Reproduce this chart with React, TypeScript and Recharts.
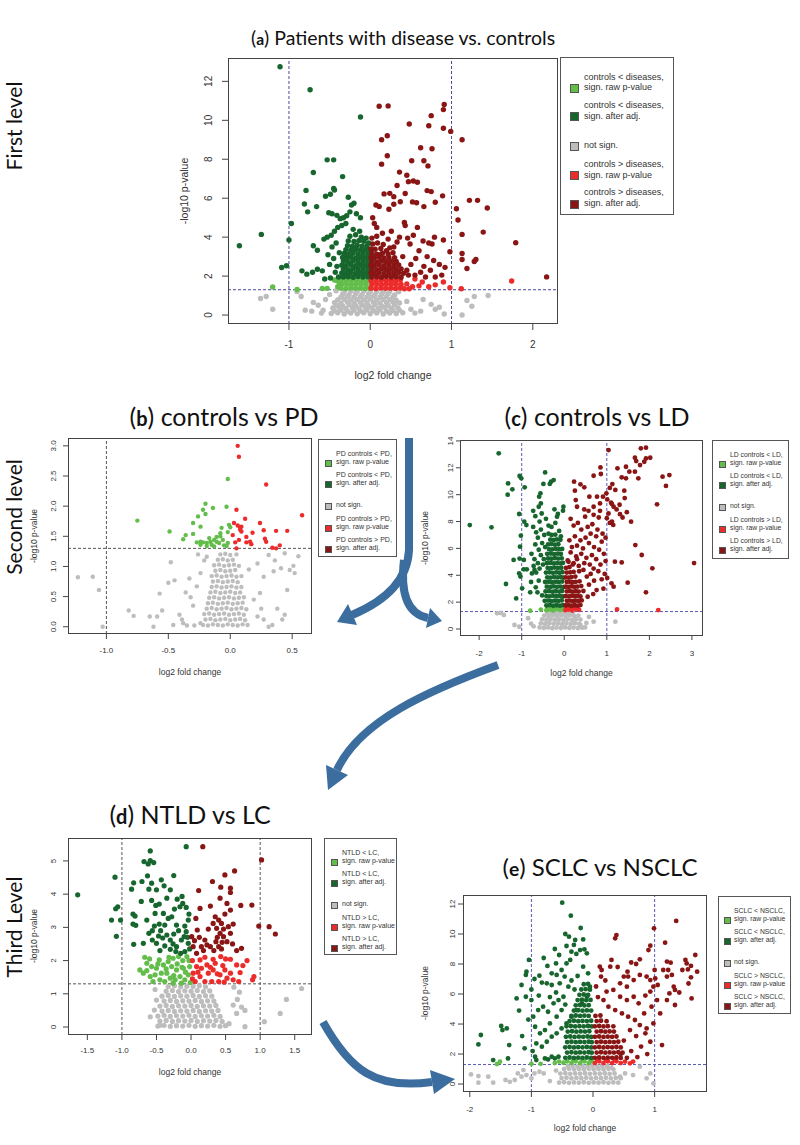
import { ScatterChart, Scatter, XAxis, YAxis, ReferenceLine } from 'recharts';

const COL = { lg: '#63bd4b', dg: '#16662d', ns: '#bdbdbd', lr: '#ec2b2b', dr: '#8a1515' };
const RFONT = '"Liberation Sans", Arial, sans-serif';
const TFONT = 'Lato, "Open Sans", sans-serif';

// ---------- (a) patients with disease vs controls ----------
const A_X_TICKS = [-1, 0, 1, 2];
const A_Y_TICKS = [0, 2, 4, 6, 8, 10, 12];
const A_NS = [-1.35,0.85, -1.28,0.95, -1.2,0.3, -0.9,1.2, -0.85,0.95, -0.8,0.25, -0.72,0.2, -0.7,0.65, -0.64,0.5, -0.6,0.1, -0.58,0.25, -0.55,0.8, -0.5,1.05, 0.45,0.7, 0.5,0.3, 0.55,0.1, 0.62,0.2, 0.65,0.8, 0.75,0.55, 0.8,0.3, 0.85,0.4, 0.91,0.05, 1.13,0.0, 1.19,0.75, 1.25,0.45, 1.28,0.95, 1.45,1.0,
  -0.48,0.08, -0.4,0.12, -0.32,0.05, -0.24,0.1, -0.16,0.06, -0.08,0.12, 0.0,0.07, 0.08,0.11, 0.16,0.05, 0.24,0.1, 0.32,0.08, 0.4,0.12,
  -0.44,0.22, -0.36,0.25, -0.28,0.2, -0.2,0.24, -0.12,0.21, -0.04,0.26, 0.04,0.22, 0.12,0.25, 0.2,0.2, 0.28,0.23, 0.36,0.25,
  -0.46,0.36, -0.38,0.39, -0.3,0.34, -0.22,0.38, -0.14,0.35, -0.06,0.39, 0.02,0.36, 0.1,0.33, 0.18,0.39, 0.26,0.35, 0.34,0.37,
  -0.42,0.5, -0.34,0.47, -0.26,0.52, -0.18,0.49, -0.1,0.51, -0.02,0.48, 0.06,0.52, 0.14,0.47, 0.22,0.5, 0.3,0.53,
  -0.44,0.64, -0.36,0.61, -0.28,0.66, -0.2,0.62, -0.12,0.65, -0.04,0.63, 0.04,0.66, 0.12,0.61, 0.2,0.64, 0.28,0.67, 0.36,0.62,
  -0.4,0.78, -0.32,0.81, -0.24,0.77, -0.16,0.8, -0.08,0.78, 0.0,0.82, 0.08,0.77, 0.16,0.8, 0.24,0.79, 0.32,0.76,
  -0.36,0.92, -0.28,0.95, -0.2,0.91, -0.12,0.94, -0.04,0.92, 0.04,0.96, 0.12,0.91, 0.2,0.94, 0.28,0.93,
  -0.34,1.07, -0.26,1.04, -0.18,1.09, -0.1,1.05, -0.02,1.08, 0.06,1.04, 0.14,1.07, 0.22,1.1, 0.3,1.03,
  -0.32,1.2, -0.24,1.22, -0.16,1.19, -0.08,1.23, 0.0,1.2, 0.08,1.22, 0.16,1.19, 0.24,1.21, -0.42,1.25, 0.35,1.2];
const A_LG = [-1.2,1.44, -0.9,1.31, -0.59,1.36, -0.53,1.37, -0.44,1.8, -0.41,1.77, -0.40,1.45, -0.38,1.65,
  -0.36,1.38, -0.30,1.36, -0.24,1.39, -0.18,1.37, -0.12,1.38, -0.06,1.36, -0.01,1.39,
  -0.35,1.58, -0.29,1.6, -0.23,1.57, -0.17,1.59, -0.11,1.58, -0.05,1.6,
  -0.36,1.78, -0.30,1.76, -0.24,1.79, -0.18,1.77, -0.12,1.78, -0.06,1.76, -0.01,1.79];
const A_LR = [0.01,1.38, 0.07,1.36, 0.13,1.39, 0.19,1.37, 0.25,1.38, 0.31,1.36, 0.37,1.39, 0.42,1.35,
  0.02,1.58, 0.08,1.6, 0.14,1.57, 0.20,1.59, 0.26,1.58, 0.32,1.6, 0.38,1.57,
  0.01,1.78, 0.07,1.76, 0.13,1.79, 0.19,1.77, 0.25,1.78, 0.31,1.76, 0.37,1.8,
  0.45,1.6, 0.52,1.45, 0.6,1.5, 0.64,1.7, 0.72,1.45, 0.8,1.55, 0.9,1.7, 0.98,1.4, 1.12,1.35, 1.74,1.75, 0.55,1.85, 0.48,1.35];
const A_DG = [-1.11,12.75, -0.74,11.57, -0.12,10.17, -0.53,7.97, -0.45,7.97, -0.70,7.32, -0.34,7.11, -0.45,6.5, -0.44,6.42, -0.79,6.4, -0.55,6.1, -0.49,6.2, -0.81,5.7, -0.77,5.3, -0.66,5.57, -0.27,6.05, -0.23,5.65, -0.20,5.74, -0.51,5.25, -0.47,5.2, -0.41,5.12, -0.37,4.95, -0.33,5.0, -0.29,5.1, -0.25,5.3, -0.17,5.2, -0.12,5.0, -0.97,4.7, -1.0,3.85, -1.34,4.14, -1.61,3.56, -1.09,2.44, -1.03,2.53, -0.70,3.56, -0.65,3.33, -0.84,2.27, -0.78,2.1, -0.71,2.2, -0.65,2.35, -0.59,2.27, -0.56,1.85, -0.49,1.9, -0.57,3.9, -0.53,4.0, -0.48,4.1, -0.44,4.3, -0.40,4.5, -0.35,4.6, -0.30,4.7, -0.42,3.7, -0.47,3.5, -0.52,3.1, -0.45,2.9, -0.50,2.6, -0.41,2.5, -0.38,3.2, -0.43,2.2, -0.39,1.95,
  -0.33,1.95, -0.27,1.97, -0.21,1.94, -0.15,1.98, -0.09,1.95, -0.03,1.97,
  -0.35,2.16, -0.30,2.14, -0.24,2.17, -0.18,2.13, -0.12,2.16, -0.06,2.15, -0.01,2.18,
  -0.33,2.36, -0.27,2.33, -0.21,2.37, -0.15,2.34, -0.09,2.36, -0.03,2.35,
  -0.35,2.56, -0.30,2.54, -0.24,2.57, -0.18,2.53, -0.12,2.56, -0.06,2.55, -0.01,2.57,
  -0.33,2.76, -0.27,2.73, -0.21,2.77, -0.15,2.74, -0.09,2.76, -0.03,2.75,
  -0.34,2.96, -0.29,2.94, -0.24,2.97, -0.18,2.93, -0.12,2.96, -0.06,2.95, -0.01,2.97,
  -0.32,3.16, -0.27,3.13, -0.21,3.17, -0.15,3.14, -0.09,3.16, -0.03,3.15,
  -0.30,3.36, -0.24,3.33, -0.18,3.37, -0.12,3.34, -0.06,3.36, -0.01,3.35,
  -0.28,3.56, -0.22,3.53, -0.16,3.57, -0.10,3.54, -0.04,3.56,
  -0.27,3.8, -0.20,3.78, -0.14,3.82, -0.08,3.79, -0.02,3.7,
  -0.25,4.05, -0.18,4.12, -0.11,4.0, -0.05,3.95, -0.21,4.4, -0.13,4.3];
const A_DR = [0.11,10.72, 0.22,10.74, 0.48,9.81, 0.75,10.24, 0.72,9.72, 0.91,10.81, 0.90,10.55, 0.90,9.59, 0.99,9.43, 1.13,9.0, 0.14,9.0, 0.21,9.21, 0.14,7.75, 0.21,8.18, 0.51,7.92, 0.62,8.59, 0.76,8.54, 0.66,7.92, 0.71,7.66, 0.36,7.34, 0.45,7.18, 0.47,6.85, 0.53,6.88, 0.58,6.82, 0.33,6.65, 0.24,6.25, 0.29,6.08, 0.17,6.22, 0.43,6.24, 0.70,6.39, 0.75,6.34, 0.89,6.12, 0.80,5.79, 0.52,5.81, 0.57,5.77, 0.66,5.57, 0.07,5.65, 0.11,5.57, 0.23,5.43, 0.37,5.82, 0.29,5.69, 1.06,5.46, 1.22,5.89, 1.32,5.89, 1.44,5.5, 1.08,4.88, 1.13,4.14, 1.39,4.26, 1.79,3.71, 1.13,3.16, 1.13,2.85, 1.30,2.85, 1.28,2.75, 1.19,2.39, 2.17,1.96, 0.98,3.25, 0.90,3.85, 0.79,4.0, 0.76,3.65, 0.72,3.7, 0.58,4.5, 0.42,4.75, 0.43,4.6, 0.53,4.1, 0.65,3.8, 0.49,3.65, 0.33,3.75, 0.29,3.5, 0.20,3.3, 0.12,3.1, 0.05,4.7, 0.03,5.0, 0.08,4.5, 0.15,4.2, 0.26,4.3, 0.36,4.0, 0.46,3.95, 0.60,3.3, 0.70,3.0, 0.78,2.8, 0.85,2.6, 0.66,2.5, 0.56,2.9, 0.50,2.6, 0.62,2.2, 0.74,2.3, 0.88,2.05, 0.80,1.95, 0.45,2.3, 0.47,2.05, 0.55,2.05, 0.68,1.95, 0.40,3.0, 0.92,2.45,
  0.02,1.95, 0.08,1.97, 0.14,1.94, 0.20,1.98, 0.26,1.95, 0.32,1.97, 0.38,1.94,
  0.01,2.16, 0.05,2.14, 0.11,2.17, 0.17,2.13, 0.23,2.16, 0.29,2.15, 0.35,2.18, 0.41,2.14,
  0.02,2.36, 0.08,2.33, 0.14,2.37, 0.20,2.34, 0.26,2.36, 0.32,2.35, 0.38,2.37,
  0.01,2.56, 0.05,2.54, 0.11,2.57, 0.17,2.53, 0.23,2.56, 0.29,2.55, 0.35,2.57,
  0.02,2.76, 0.08,2.73, 0.14,2.77, 0.20,2.74, 0.26,2.76, 0.32,2.75,
  0.01,2.96, 0.05,2.94, 0.11,2.97, 0.17,2.93, 0.23,2.96, 0.30,2.95,
  0.02,3.16, 0.08,3.13, 0.15,3.17, 0.22,3.14, 0.28,3.2,
  0.01,3.4, 0.06,3.38, 0.13,3.42, 0.24,3.45, 0.03,3.65, 0.09,3.7, 0.16,3.62, 0.02,3.95, 0.08,4.05, 0.22,3.9];
const A_LEGEND = [['controls < diseases,', 'sign. raw p-value'], ['controls < diseases,', 'sign. after adj.'], ['not sign.'], ['controls > diseases,', 'sign. raw p-value'], ['controls > diseases,', 'sign. after adj.']];

// ---------- (b) controls vs PD ----------
const B_X_TICKS = [-1, -0.5, 0, 0.5];
const B_Y_TICKS = [0, 0.5, 1, 1.5, 2, 2.5, 3];
const B_NS = [-1.23,0.82, -1.11,0.83, -1.06,0.61, -1.03,0.0, -0.82,0.27, -0.78,0.18, -0.65,0.17, -0.62,0.0, -0.59,0.17, -0.57,0.55, -0.55,0.27, -0.48,1.07, -0.45,0.77, -0.50,0.73, -0.41,0.2, -0.38,0.06, -0.46,0.03, -0.35,0.02, -0.39,0.12, -0.29,0.02, -0.24,0.06, -0.36,0.57, -0.32,0.49, -0.27,0.67, -0.24,0.89, -0.21,1.1, -0.19,1.16, -0.26,1.2, -0.30,0.35, -0.33,0.8, 0.31,0.0, 0.34,0.03, 0.44,0.2, 0.42,0.12, 0.46,0.61, 0.52,0.89, 0.51,1.01, 0.55,1.17, 0.48,0.94, 0.41,0.97, 0.35,0.92, 0.27,0.83, 0.31,1.19, 0.24,0.56, 0.19,0.45, 0.22,0.17, 0.27,0.12, 0.38,0.3, 0.25,0.3, 0.15,0.95, 0.22,1.05, 0.36,1.1, 0.44,1.22,
  -0.22,0.03, -0.18,0.02, -0.14,0.04, -0.10,0.03, -0.06,0.02, -0.02,0.04, 0.02,0.03, 0.06,0.02, 0.10,0.04, 0.14,0.03,
  -0.20,0.12, -0.16,0.13, -0.12,0.11, -0.08,0.12, -0.04,0.13, 0.0,0.11, 0.04,0.12, 0.08,0.13, 0.12,0.11,
  -0.21,0.21, -0.17,0.22, -0.13,0.2, -0.09,0.21, -0.05,0.22, -0.01,0.2, 0.03,0.21, 0.07,0.22, 0.11,0.2,
  -0.19,0.3, -0.15,0.31, -0.11,0.29, -0.07,0.3, -0.03,0.31, 0.01,0.29, 0.05,0.3, 0.09,0.31, 0.13,0.29,
  -0.18,0.39, -0.14,0.4, -0.10,0.38, -0.06,0.39, -0.02,0.4, 0.02,0.38, 0.06,0.39, 0.10,0.4,
  -0.17,0.48, -0.13,0.49, -0.09,0.47, -0.05,0.48, -0.01,0.49, 0.03,0.47, 0.07,0.48, 0.11,0.49,
  -0.16,0.57, -0.12,0.58, -0.08,0.56, -0.04,0.57, 0.0,0.58, 0.04,0.56, 0.08,0.57,
  -0.15,0.66, -0.11,0.67, -0.07,0.65, -0.03,0.66, 0.01,0.67, 0.05,0.65, 0.09,0.66,
  -0.14,0.75, -0.10,0.76, -0.06,0.74, -0.02,0.75, 0.02,0.76, 0.06,0.74,
  -0.15,0.84, -0.11,0.85, -0.07,0.83, -0.03,0.84, 0.01,0.85, 0.05,0.83, 0.09,0.84,
  -0.12,0.93, -0.08,0.94, -0.04,0.92, 0.0,0.93, 0.04,0.94,
  -0.13,1.02, -0.09,1.03, -0.05,1.01, -0.01,1.02, 0.03,1.03, 0.07,1.01,
  -0.10,1.11, -0.06,1.12, -0.02,1.1, 0.02,1.11, -0.08,1.2, -0.04,1.21, 0.0,1.19, 0.05,1.2];
const B_LG = [-0.75,1.76, -0.49,1.58, -0.02,2.45, -0.20,2.04, -0.22,1.94, -0.20,1.87, -0.14,1.97, -0.30,1.72, -0.24,1.66, -0.38,1.45, -0.36,1.52, -0.30,1.54, -0.03,1.99, -0.01,1.69, 0.0,1.65, -0.08,1.55, -0.08,1.50, -0.11,1.49, -0.13,1.44, -0.16,1.41, -0.19,1.39, -0.22,1.40, -0.24,1.36, -0.24,1.41, -0.11,1.41, -0.09,1.39, -0.15,1.36, -0.19,1.34, -0.06,1.44, -0.02,1.57, -0.02,1.39, -0.03,1.34, -0.27,1.40, -0.07,1.64, -0.26,1.83, -0.13,1.33, -0.17,1.47, -0.05,1.35];
const B_LR = [0.06,3.0, 0.07,2.82, 0.29,2.36, 0.05,1.94, 0.58,1.85, 0.03,1.72, 0.06,1.68, 0.08,1.65, 0.08,1.61, 0.09,1.58, 0.12,1.79, 0.24,1.72, 0.18,1.56, 0.27,1.60, 0.28,1.46, 0.29,1.41, 0.37,1.59, 0.46,1.59, 0.13,1.40, 0.13,1.49, 0.16,1.41, 0.17,1.37, 0.04,1.40, 0.05,1.30, 0.40,1.35, 0.37,1.30, 0.34,1.31, 0.07,1.44, 0.09,1.66, 0.02,1.52];
const B_DG: number[] = [];
const B_DR: number[] = [];
const B_LEGEND = [['PD controls < PD,', 'sign. raw p-value'], ['PD controls < PD,', 'sign. after adj.'], ['not sign.'], ['PD controls > PD,', 'sign. raw p-value'], ['PD controls > PD,', 'sign. after adj.']];

// ---------- (c) controls vs LD ----------
const C_X_TICKS = [-2, -1, 0, 1, 2, 3];
const C_Y_TICKS = [0, 2, 4, 6, 8, 10, 12, 14];
const C_NS = [-1.5,1.2, -1.58,1.17, -1.42,1.05, -1.17,0.3, -1.06,0.17, -0.85,0.8, -0.78,0.4, -0.72,0.2, 0.38,0.3, 0.49,0.12, 0.69,0.55, 1.2,0.55, 0.58,0.9, 0.52,0.45,
  -0.58,0.12, -0.48,0.08, -0.38,0.12, -0.28,0.06, -0.18,0.11, -0.08,0.07, 0.02,0.12, 0.12,0.08, 0.22,0.11, 0.32,0.07, 0.42,0.1,
  -0.55,0.42, -0.45,0.38, -0.35,0.43, -0.25,0.39, -0.15,0.41, -0.05,0.37, 0.05,0.42, 0.15,0.38, 0.25,0.43, 0.35,0.39,
  -0.52,0.72, -0.42,0.68, -0.32,0.73, -0.22,0.69, -0.12,0.71, -0.02,0.67, 0.08,0.72, 0.18,0.68, 0.28,0.73, 0.38,0.7,
  -0.47,1.0, -0.37,0.97, -0.27,1.02, -0.17,0.98, -0.07,1.01, 0.03,0.97, 0.13,1.02, 0.23,0.98, 0.33,1.0,
  -0.40,1.22, -0.30,1.2, -0.20,1.23, -0.10,1.19, 0.0,1.22, 0.10,1.2, 0.20,1.23];
const C_LG = [-0.42,1.4, -0.34,1.45, -0.26,1.38, -0.18,1.5, -0.10,1.42, -0.03,1.47, -0.38,1.6, -0.30,1.62, -0.22,1.58, -0.14,1.65, -0.06,1.6, -0.80,1.36, -0.55,1.45];
const C_LR = [0.03,1.4, 0.11,1.45, 0.19,1.38, 0.27,1.5, 0.35,1.42, 0.07,1.62, 0.15,1.6, 0.23,1.65, 0.31,1.58, 1.24,1.46, 2.21,1.41];
const C_DG = [-1.54,13.08, -2.22,7.74, -1.71,7.57, -1.05,11.39, -1.01,11.22, -1.32,10.84, -1.22,10.40, -1.33,10.0, -0.93,10.55, -1.06,8.56, -0.94,7.99, -0.89,7.74, -1.02,6.95, -1.04,6.13, -1.05,5.24, -1.19,5.14, -0.95,5.14, -0.95,4.44, -1.03,3.9, -1.37,3.35, -1.13,2.28, -1.06,4.14, -0.99,3.03, -0.80,2.73, -0.76,4.14, -0.88,4.44, -0.45,11.66, -0.56,10.1, -0.59,9.85, -0.55,9.35, -0.60,9.1, -0.49,10.8, -0.34,10.8, -0.31,10.97, -0.25,11.09, -0.02,9.1, -0.03,8.81, -0.17,8.36, -0.15,8.56, -0.23,8.91, -0.63,2.73, -0.78,3.5, -0.70,4.4, -0.67,3.1, -0.60,3.6, -0.52,2.5,
  -0.73,8.8, -0.68,8.4, -0.58,8.0, -0.73,7.6, -0.66,7.2, -0.53,8.6, -0.43,8.2, -0.37,7.7, -0.55,7.4, -0.47,7.0, -0.62,6.8, -0.37,7.1, -0.30,7.6, -0.21,7.9, -0.12,7.3, -0.08,6.9, -0.68,6.3, -0.60,5.9, -0.52,6.4, -0.45,6.1, -0.77,5.6, -0.70,5.2, -0.62,4.9, -0.55,5.5, -0.48,5.2, -0.72,4.7, -0.66,4.2, -0.58,4.5, -0.50,4.8,
  -0.42,1.75, -0.34,1.78, -0.26,1.73, -0.18,1.77, -0.10,1.74, -0.03,1.78,
  -0.46,2.1, -0.38,2.12, -0.30,2.08, -0.22,2.11, -0.14,2.09, -0.06,2.13,
  -0.42,2.45, -0.34,2.43, -0.26,2.47, -0.18,2.44, -0.10,2.46, -0.03,2.42,
  -0.44,2.8, -0.36,2.82, -0.28,2.78, -0.20,2.81, -0.12,2.79, -0.05,2.83,
  -0.41,3.15, -0.33,3.13, -0.25,3.17, -0.17,3.14, -0.09,3.16, -0.02,3.12,
  -0.45,3.5, -0.37,3.52, -0.29,3.48, -0.21,3.51, -0.13,3.49, -0.05,3.53,
  -0.40,3.85, -0.32,3.83, -0.24,3.87, -0.16,3.84, -0.08,3.86, -0.02,3.82,
  -0.43,4.2, -0.35,4.22, -0.27,4.18, -0.19,4.21, -0.11,4.19, -0.04,4.23,
  -0.39,4.55, -0.31,4.53, -0.23,4.57, -0.15,4.54, -0.07,4.56,
  -0.41,4.9, -0.33,4.92, -0.25,4.88, -0.17,4.91, -0.09,4.89, -0.03,4.93,
  -0.38,5.25, -0.30,5.23, -0.22,5.27, -0.14,5.24, -0.06,5.26,
  -0.40,5.6, -0.32,5.62, -0.24,5.58, -0.16,5.61, -0.08,5.59,
  -0.36,5.95, -0.28,5.93, -0.20,5.97, -0.12,5.94, -0.05,5.96,
  -0.38,6.3, -0.30,6.32, -0.22,6.28, -0.14,6.31,
  -0.33,6.65, -0.25,6.63, -0.17,6.67, -0.09,6.64, -0.30,7.0, -0.21,7.02];
const C_DR = [1.80,13.45, 1.92,13.5, 2.02,12.75, 1.04,13.32, 1.66,12.75, 1.69,12.5, 1.78,12.2, 1.88,12.45, 1.92,12.7, 0.85,12.03, 1.25,11.96, 1.45,12.08, 0.86,11.54, 0.69,11.41, 1.53,11.71, 1.66,11.71, 1.74,11.22, 1.45,11.22, 1.35,11.29, 2.31,11.34, 2.47,11.46, 2.39,10.65, 2.18,9.28, 0.23,10.97, 0.38,10.77, 0.47,10.55, 1.13,10.79, 1.07,10.5, 0.99,10.1, 0.91,9.85, 1.01,9.65, 1.10,9.4, 1.16,9.1, 1.23,8.9, 1.31,8.55, 1.37,8.3, 1.47,8.7, 1.20,10.35, 1.41,10.30, 1.42,9.75, 1.30,9.25, 1.12,9.3, 0.84,9.35, 0.69,9.1, 0.57,8.8, 0.49,8.36, 0.69,8.5, 0.81,8.3, 0.25,10.3, 0.27,9.6, 0.30,9.1, 0.47,8.9, 0.59,9.85, 0.77,9.85, 0.84,8.8, 1.04,8.6, 1.0,8.25, 1.12,8.0, 1.15,7.75, 1.07,7.9, 1.57,7.99, 1.67,6.25, 1.82,5.51, 2.07,4.52, 3.05,4.91, 1.92,2.73, 1.49,3.45, 1.11,3.4, 1.16,3.15, 1.19,5.01, 1.35,4.96, 0.97,5.06, 0.88,3.7, 0.85,4.8, 0.69,4.5, 0.62,4.1, 0.53,3.9,
  0.15,8.2, 0.22,7.7, 0.32,7.9, 0.40,7.4, 0.55,7.6, 0.66,7.8, 0.78,7.4, 0.90,7.1, 0.97,6.8, 0.88,6.5, 0.75,6.9, 0.62,7.1, 0.50,6.8, 0.38,6.6, 0.25,6.9, 0.12,6.6, 0.18,6.1, 0.30,6.2, 0.44,6.0, 0.58,6.4, 0.70,6.1, 0.82,5.9, 0.93,5.6, 0.65,5.5, 0.52,5.3, 0.40,5.6, 0.28,5.4, 0.15,5.7, 0.10,5.0, 0.22,4.9, 0.34,4.7, 0.47,4.9, 0.60,4.8, 0.75,5.2, 0.80,4.3, 0.70,3.6, 0.58,3.3, 0.45,4.4, 0.95,4.1, 1.01,3.8, 0.92,3.0, 0.76,2.9, 0.68,2.6, 0.55,2.4,
  0.03,1.75, 0.10,1.78, 0.17,1.73, 0.24,1.77, 0.31,1.74, 0.38,1.78,
  0.06,2.1, 0.13,2.12, 0.20,2.08, 0.27,2.11, 0.34,2.09, 0.41,2.13,
  0.03,2.45, 0.10,2.43, 0.17,2.47, 0.24,2.44, 0.31,2.46, 0.38,2.42,
  0.06,2.8, 0.13,2.82, 0.20,2.78, 0.27,2.81, 0.34,2.79, 0.45,2.83,
  0.03,3.15, 0.10,3.13, 0.17,3.17, 0.24,3.14, 0.31,3.16, 0.40,3.2,
  0.06,3.5, 0.13,3.52, 0.20,3.48, 0.27,3.51, 0.36,3.55,
  0.03,3.85, 0.10,3.83, 0.17,3.87, 0.26,3.9, 0.06,4.2, 0.14,4.22, 0.22,4.25, 0.35,4.3,
  0.04,4.55, 0.12,4.6, 0.2,4.8, 0.08,5.1, 0.3,5.2];
const C_LEGEND = [['LD controls < LD,', 'sign. raw p-value'], ['LD controls < LD,', 'sign. after adj.'], ['not sign.'], ['LD controls > LD,', 'sign. raw p-value'], ['LD controls > LD,', 'sign. after adj.']];

// ---------- (d) NTLD vs LC ----------
const D_X_TICKS = [-1.5, -1, -0.5, 0, 0.5, 1, 1.5];
const D_Y_TICKS = [0, 1, 2, 3, 4, 5];
const D_NS = [1.60,1.16, 1.38,0.83, 1.29,0.41, 1.06,0.16, 0.78,0.01, 0.66,0.41, 0.67,0.83, 0.61,0.66, 0.73,0.6, 0.78,0.5, -0.59,0.31, -0.53,0.51, -0.50,0.81, -0.52,1.13, 0.70,1.05, 0.62,1.2, 0.55,0.1, -0.45,0.05,
  -0.48,0.03, -0.39,0.05, -0.30,0.02, -0.21,0.04, -0.12,0.03, -0.03,0.05, 0.06,0.02, 0.15,0.04, 0.24,0.03, 0.33,0.05, 0.42,0.02, 0.50,0.04,
  -0.45,0.18, -0.36,0.2, -0.27,0.17, -0.18,0.19, -0.09,0.18, 0.0,0.2, 0.09,0.17, 0.18,0.19, 0.27,0.18, 0.36,0.2, 0.45,0.17,
  -0.48,0.33, -0.39,0.35, -0.30,0.32, -0.21,0.34, -0.12,0.33, -0.03,0.35, 0.06,0.32, 0.15,0.34, 0.24,0.33, 0.33,0.35, 0.42,0.32,
  -0.42,0.48, -0.33,0.5, -0.24,0.47, -0.15,0.49, -0.06,0.48, 0.03,0.5, 0.12,0.47, 0.21,0.49, 0.30,0.48, 0.39,0.5,
  -0.45,0.63, -0.36,0.65, -0.27,0.62, -0.18,0.64, -0.09,0.63, 0.0,0.65, 0.09,0.62, 0.18,0.64, 0.27,0.63, 0.36,0.65,
  -0.39,0.78, -0.30,0.8, -0.21,0.77, -0.12,0.79, -0.03,0.78, 0.06,0.8, 0.15,0.77, 0.24,0.79, 0.33,0.78,
  -0.42,0.93, -0.33,0.95, -0.24,0.92, -0.15,0.94, -0.06,0.93, 0.03,0.95, 0.12,0.92, 0.21,0.94, 0.30,0.93,
  -0.36,1.08, -0.27,1.1, -0.18,1.07, -0.09,1.09, 0.0,1.08, 0.09,1.1, 0.18,1.07, 0.27,1.09,
  -0.33,1.22, -0.24,1.24, -0.15,1.21, -0.06,1.23, 0.03,1.22, 0.12,1.24, 0.21,1.21];
const D_LG = [-0.67,2.10, -0.64,1.92, -0.74,1.72, -0.64,1.70, -0.57,1.82, -0.52,1.57, -0.55,1.37, -0.46,2.02, -0.40,1.87, -0.33,1.97, -0.26,2.07, -0.18,2.12, -0.12,2.0, -0.06,2.12, -0.02,1.82, -0.11,1.77, -0.21,1.72, -0.28,1.82, -0.35,1.62, -0.43,1.62, -0.45,1.42, -0.38,1.37, -0.30,1.47, -0.23,1.42, -0.16,1.52, -0.09,1.42, -0.04,1.57, -0.01,1.34, -0.14,1.32, -0.26,1.32, -0.50,1.77, -0.59,1.52, -0.69,1.62, -0.36,1.75, -0.2,1.9, -0.08,1.65, -0.48,1.9, -0.25,1.55, -0.13,1.8, -0.6,2.05, -0.32,2.1, -0.03,2.0];
const D_LR = [0.32,2.04, 0.43,2.12, 0.57,2.04, 0.81,2.0, 0.91,1.52, 0.89,1.42, 0.57,1.62, 0.61,1.42, 0.69,1.37, 0.52,1.47, 0.42,1.57, 0.32,1.72, 0.23,1.87, 0.13,2.02, 0.08,1.82, 0.03,1.62, 0.13,1.52, 0.20,1.37, 0.30,1.37, 0.40,1.37, 0.49,1.72, 0.66,1.87, 0.71,1.64, 0.35,1.92, 0.15,1.77, 0.06,1.37, 0.25,1.62, 0.02,2.0, 0.1,1.65, 0.2,2.1, 0.28,1.8, 0.38,1.6, 0.46,1.85, 0.5,2.05, 0.02,1.45, 0.48,1.35, 0.75,1.85];
const D_DG = [-1.64,3.98, -1.10,4.51, -1.15,3.22, -1.09,3.56, -1.06,3.62, -1.02,3.22, -1.08,2.73, -0.83,4.34, -0.86,4.15, -0.84,3.40, -0.81,3.34, -0.84,3.10, -0.80,3.06, -0.83,2.49, -0.59,5.30, -0.68,4.98, -0.62,4.91, -0.59,5.01, -0.54,4.95, -0.63,4.55, -0.71,4.38, -0.57,4.33, -0.43,4.43, -0.25,4.56, -0.39,4.25, -0.30,4.13, -0.50,4.13, -0.61,4.15, -0.72,3.78, -0.57,3.81, -0.51,3.66, -0.35,3.88, -0.20,3.85, -0.12,3.72, -0.16,3.62, -0.07,3.60, -0.13,3.93, -0.52,3.42, -0.40,3.42, -0.28,3.32, -0.33,3.27, -0.64,3.22, -0.53,3.04, -0.46,3.10, -0.38,3.07, -0.21,3.07, -0.09,3.04, -0.04,3.22, -0.61,2.82, -0.56,2.90, -0.47,2.74, -0.41,2.68, -0.35,2.77, -0.30,2.62, -0.26,2.50, -0.21,2.42, -0.14,2.62, -0.10,2.72, -0.07,2.87, -0.04,2.52, -0.09,2.27, -0.15,2.22, -0.22,2.27, -0.30,2.34, -0.38,2.44, -0.50,2.52, -0.56,2.62, -0.07,5.43, -0.69,2.52, -0.45,2.3, -0.02,2.35, -0.05,2.7, -0.18,2.9, -0.25,2.8, -0.44,2.9, -0.03,3.4, -0.24,3.55, -0.46,3.7];
const D_DR = [0.17,5.43, 1.02,5.03, 0.63,4.70, 0.49,4.58, 0.31,4.38, 0.11,4.11, 0.43,4.21, 0.57,4.18, 0.57,4.05, 0.42,3.88, 0.52,3.72, 0.72,3.66, 0.88,3.67, 0.57,3.52, 0.13,3.57, 0.28,3.64, 0.35,3.32, 0.40,3.22, 0.44,3.12, 0.37,2.97, 0.32,3.12, 0.42,2.82, 0.47,2.72, 0.54,3.02, 0.61,3.10, 0.57,2.82, 0.52,2.57, 0.36,2.57, 0.40,2.42, 0.28,2.42, 0.20,2.62, 0.23,2.47, 0.09,2.92, 0.12,2.70, 0.15,2.42, 0.03,2.42, 0.08,2.22, 0.01,2.72, 0.98,3.04, 1.13,3.02, 1.22,2.80, 0.07,3.27, 0.73,2.37, 0.45,2.55, 0.38,2.7, 0.47,2.95, 0.33,2.3, 0.44,2.35, 0.49,3.4, 0.25,2.95, 0.18,2.3, 0.05,2.6, 0.60,2.5, 0.66,2.3];
const D_LEGEND = [['NTLD < LC,', 'sign. raw p-value'], ['NTLD < LC,', 'sign. after adj.'], ['not sign.'], ['NTLD > LC,', 'sign. raw p-value'], ['NTLD > LC,', 'sign. after adj.']];

// ---------- (e) SCLC vs NSCLC ----------
const E_X_TICKS = [-2, -1, 0, 1];
const E_Y_TICKS = [0, 2, 4, 6, 8, 10, 12];
const E_NS = [-1.98,0.64, -1.86,0.53, -1.86,0.09, -1.70,0.49, -1.62,0.09, -1.42,0.27, -1.35,0.15, -1.27,0.27, -1.22,0.71, -1.16,0.49, -1.13,0.93, -1.08,0.6, -1.0,0.38, -0.95,0.71, -0.87,0.82, -0.80,0.71, 0.44,0.49, 0.52,0.71, 0.65,0.6, 0.76,1.16, 0.87,0.38, 0.98,0.04, 0.93,0.71, -0.7,0.2, -0.6,0.9, 0.3,1.1,
  -0.55,0.1, -0.47,0.12, -0.39,0.08, -0.31,0.11, -0.23,0.09, -0.15,0.12, -0.07,0.08, 0.01,0.11, 0.09,0.09, 0.17,0.12, 0.25,0.08, 0.33,0.11, 0.41,0.09,
  -0.51,0.4, -0.43,0.42, -0.35,0.38, -0.27,0.41, -0.19,0.39, -0.11,0.42, -0.03,0.38, 0.05,0.41, 0.13,0.39, 0.21,0.42, 0.29,0.38, 0.37,0.41, 0.45,0.39,
  -0.53,0.7, -0.45,0.72, -0.37,0.68, -0.29,0.71, -0.21,0.69, -0.13,0.72, -0.05,0.68, 0.03,0.71, 0.11,0.69, 0.19,0.72, 0.27,0.68, 0.35,0.71,
  -0.47,1.0, -0.39,1.02, -0.31,0.98, -0.23,1.01, -0.15,0.99, -0.07,1.02, 0.01,0.98, 0.09,1.01, 0.17,0.99, 0.25,1.02, 0.33,0.98,
  -0.41,1.2, -0.33,1.22, -0.25,1.18, -0.17,1.21, -0.09,1.19, -0.01,1.22, 0.07,1.18, 0.15,1.21, 0.23,1.19];
const E_LG = [-1.56,1.33, -1.51,1.49, -1.0,1.35, -0.85,1.35, -0.62,1.4, -0.48,1.42, -0.42,1.52, -0.35,1.4, -0.28,1.52, -0.21,1.4, -0.14,1.52, -0.07,1.4, -0.02,1.52, -0.32,1.58, -0.18,1.6, -0.04,1.6, -0.55,1.5];
const E_LR = [0.03,1.4, 0.1,1.52, 0.17,1.4, 0.24,1.52, 0.31,1.4, 0.38,1.52, 0.45,1.4, 0.52,1.5, 0.6,1.38, 0.65,1.5, 0.07,1.6, 0.21,1.6, 0.35,1.6];
const E_DG = [-0.50,12.09, -0.36,11.22, -0.39,9.82, -0.29,9.6, -0.16,9.64, -0.31,9.27, -0.43,9.2, -0.35,8.82, -0.27,8.67, -0.21,8.93, -0.14,8.98, -0.10,8.71, -1.04,8.27, -1.08,7.49, -1.09,7.27, -0.87,7.22, -0.74,7.87, -0.67,7.38, -1.16,6.6, -1.24,5.71, -1.09,5.82, -1.0,5.6, -1.40,3.71, -1.49,3.87, -1.47,3.6, -1.82,3.27, -1.86,2.64, -1.36,2.6, -1.38,1.71, -1.62,1.6, -1.11,2.38, -0.94,1.82, -0.92,1.6,
  -0.83,6.76, -0.75,6.71, -0.67,6.6, -0.59,7.27, -0.51,7.6, -0.43,8.04, -0.60,8.04, -0.37,8.27, -0.46,7.16, -0.54,6.71, -0.40,6.49, -0.78,1.71, -0.73,1.64, -0.67,1.82, -0.62,1.71, -0.56,1.82,
  -0.97,4.49, -0.89,4.93, -0.81,5.16, -0.73,4.82, -0.64,5.38, -0.56,5.6, -0.48,5.82, -0.94,3.82, -0.86,3.38, -0.78,3.6, -0.70,4.04, -0.59,4.49, -0.51,4.93, -0.92,2.71, -0.83,2.49, -0.75,2.82, -0.67,3.16, -0.59,3.38, -0.51,3.71, -0.43,4.04, -0.35,4.49, -0.27,4.93, -0.18,5.38, -0.10,5.82, -0.05,6.49, -0.08,7.38, -0.16,7.82,
  -1.2,4.9, -1.05,4.3, -1.15,3.2, -0.98,2.2, -1.0,6.3, -0.95,7.0, -0.8,8.4, -0.62,9.0, -0.55,8.6, -0.2,10.4, -0.45,10.0, -0.25,7.2, -0.35,6.9, -0.3,6.3, -0.45,5.3, -0.6,6.1, -0.7,5.8, -0.88,5.9,
  -0.45,1.75, -0.38,1.77, -0.31,1.74, -0.24,1.76, -0.17,1.75, -0.10,1.77, -0.03,1.74,
  -0.42,2.1, -0.35,2.12, -0.28,2.09, -0.21,2.11, -0.14,2.1, -0.07,2.12, -0.02,2.09,
  -0.45,2.45, -0.38,2.47, -0.31,2.44, -0.24,2.46, -0.17,2.45, -0.10,2.47, -0.03,2.44,
  -0.42,2.8, -0.35,2.82, -0.28,2.79, -0.21,2.81, -0.14,2.8, -0.07,2.82, -0.02,2.79,
  -0.44,3.15, -0.37,3.17, -0.30,3.14, -0.23,3.16, -0.16,3.15, -0.09,3.17, -0.03,3.14,
  -0.41,3.5, -0.34,3.52, -0.27,3.49, -0.20,3.51, -0.13,3.5, -0.06,3.52,
  -0.43,3.85, -0.36,3.87, -0.29,3.84, -0.22,3.86, -0.15,3.85, -0.08,3.87, -0.02,3.84,
  -0.38,4.2, -0.31,4.22, -0.24,4.19, -0.17,4.21, -0.10,4.2, -0.03,4.22,
  -0.35,4.55, -0.28,4.57, -0.21,4.54, -0.14,4.56, -0.07,4.55,
  -0.31,4.9, -0.24,4.92, -0.17,4.89, -0.10,4.91, -0.03,4.9,
  -0.28,5.25, -0.21,5.27, -0.14,5.24, -0.07,5.26, -0.25,5.6, -0.18,5.62, -0.11,5.59, -0.04,5.61,
  -0.22,5.95, -0.15,5.97, -0.08,5.94, -0.19,6.3, -0.12,6.32, -0.05,6.29, -0.15,6.65, -0.08,6.67];
const E_DR = [1.35,10.87, 0.38,9.93, 0.36,9.71, 0.99,10.38, 1.17,9.42, 0.93,9.22, 0.90,8.93, 1.66,8.6, 1.50,8.27, 1.52,8.04, 1.59,7.87, 1.54,7.64, 1.69,7.49, 1.59,7.11, 1.60,5.71, 1.20,8.16, 1.26,8.09, 1.14,7.6,
  1.22,7.6, 1.28,7.27, 1.20,7.16, 1.31,6.49, 1.33,6.27, 1.24,6.04, 1.33,5.27, 1.20,5.6, 1.09,4.71, 1.12,2.6, 0.76,8.31, 0.70,8.0, 0.30,8.27, 0.28,7.82, 0.11,7.82, 0.14,7.6, 0.13,7.16,
  0.56,7.49, 0.50,7.16, 0.57,7.16, 0.44,6.71, 0.55,6.49, 0.66,6.93, 0.76,7.27, 0.87,7.16, 0.93,6.93, 1.01,7.04, 1.05,6.6, 0.98,6.49, 0.93,6.16, 1.04,5.6, 0.95,5.16, 0.83,4.71, 0.74,5.38, 0.66,5.82, 0.55,5.6, 0.44,5.82, 0.33,6.27, 0.22,6.16, 0.17,5.6, 0.25,5.16, 0.36,4.93, 0.47,4.71, 0.57,4.49, 0.68,4.27, 0.76,3.93, 0.85,3.38, 0.93,2.82, 0.87,3.71, 0.98,4.04,
  0.2,6.9, 0.05,6.5, 0.08,5.8, 0.4,7.8, 0.62,8.1, 1.0,7.6, 1.4,6.1, 1.45,7.6, 1.55,6.7, 0.85,5.9, 0.6,3.6, 0.7,3.2, 0.5,2.9, 0.78,2.5, 0.62,2.2, 0.45,2.0, 0.55,1.75, 0.72,1.8, 0.88,2.0,
  0.03,1.75, 0.10,1.77, 0.17,1.74, 0.24,1.76, 0.31,1.75, 0.38,1.77, 0.45,1.74,
  0.06,2.1, 0.13,2.12, 0.20,2.09, 0.27,2.11, 0.34,2.1, 0.41,2.12, 0.48,2.09,
  0.03,2.45, 0.10,2.47, 0.17,2.44, 0.24,2.46, 0.31,2.45, 0.38,2.47, 0.45,2.44,
  0.06,2.8, 0.13,2.82, 0.20,2.79, 0.27,2.81, 0.34,2.8, 0.41,2.82,
  0.03,3.15, 0.10,3.17, 0.17,3.14, 0.24,3.16, 0.31,3.15, 0.38,3.17,
  0.06,3.5, 0.13,3.52, 0.20,3.49, 0.27,3.51, 0.34,3.5,
  0.03,3.85, 0.10,3.87, 0.17,3.84, 0.24,3.86, 0.33,3.85, 0.06,4.2, 0.13,4.22, 0.22,4.19, 0.04,4.55, 0.12,4.57];
const E_LEGEND = [['SCLC < NSCLC,', 'sign. raw p-value'], ['SCLC < NSCLC,', 'sign. after adj.'], ['not sign.'], ['SCLC > NSCLC,', 'sign. raw p-value'], ['SCLC > NSCLC,', 'sign. after adj.']];

const LEVELS = ['First level', 'Second level', 'Third Level'];

const pts = (a: number[]) => {
  const out: { x: number; y: number }[] = [];
  for (let i = 0; i < a.length; i += 2) out.push({ x: a[i], y: a[i + 1] });
  return out;
};
const f0 = (v: number) => String(v);
const f1 = (v: number) => v.toFixed(1);

const LEGEND_COLORS = [COL.lg, COL.dg, COL.ns, COL.lr, COL.dr];
const LEGEND_LINES = [[15, 23], [36, 44], [66], [80, 88], [101, 109]];

const PANELS = [
  { tag: 'a', title: 'Patients with disease vs. controls', tx: 403, ty: 38, tfs: 19.5,
    box: { l: 228, t: 58, w: 330, h: 266 }, xd: [-1.75, 2.31], yd: [-0.46, 13.2], xt: A_X_TICKS, yt: A_Y_TICKS, xf: f0, yf: f0,
    series: [[A_NS, COL.ns], [A_LG, COL.lg], [A_LR, COL.lr], [A_DG, COL.dg], [A_DR, COL.dr]], r: 2.7,
    tl: 6, xOff: 20, yOff: 20, tfsz: 10, lfs: 10.5, dash: '#4a4a9c', xLabY: 375, yLabX: 184,
    legend: { l: 560, t: 57, w: 114, h: 158, s: 1.34, fs: 9, sq: 7, sqX: 9, txX: 23, labels: A_LEGEND } },
  { tag: 'b', title: 'controls vs PD', tx: 224, ty: 417, tfs: 25,
    box: { l: 68, t: 438, w: 244, h: 196 }, xd: [-1.31, 0.66], yd: [-0.12, 3.13], xt: B_X_TICKS, yt: B_Y_TICKS, xf: f1, yf: f1,
    series: [[B_NS, COL.ns], [B_LG, COL.lg], [B_LR, COL.lr], [B_DG, COL.dg], [B_DR, COL.dr]], r: 2.2,
    tl: 5, xOff: 16, yOff: 15, tfsz: 8, lfs: 8.5, dash: '#555555', xLabY: 672, yLabX: 34,
    legend: { l: 318, t: 439, w: 79, h: 118, s: 1, fs: 7, sq: 5, sqX: 6, txX: 17, labels: B_LEGEND } },
  { tag: 'c', title: 'controls vs LD', tx: 597, ty: 417, tfs: 25,
    box: { l: 460, t: 440, w: 243, h: 196 }, xd: [-2.45, 3.26], yd: [-0.52, 14.07], xt: C_X_TICKS, yt: C_Y_TICKS, xf: f0, yf: f0,
    series: [[C_NS, COL.ns], [C_LG, COL.lg], [C_LR, COL.lr], [C_DG, COL.dg], [C_DR, COL.dr]], r: 2.4,
    tl: 4, xOff: 17, yOff: 10, tfsz: 8, lfs: 8.5, dash: '#5a5ab4', xLabY: 673, yLabX: 425,
    legend: { l: 712, t: 440, w: 77, h: 119, s: 1, fs: 6.8, sq: 5, sqX: 6, txX: 17, labels: C_LEGEND } },
  { tag: 'd', title: 'NTLD vs LC', tx: 190, ty: 815, tfs: 25,
    box: { l: 68, t: 838, w: 244, h: 197 }, xd: [-1.78, 1.75], yd: [-0.24, 5.69], xt: D_X_TICKS, yt: D_Y_TICKS, xf: f1, yf: f0,
    series: [[D_NS, COL.ns], [D_LG, COL.lg], [D_LR, COL.lr], [D_DG, COL.dg], [D_DR, COL.dr]], r: 2.6,
    tl: 5, xOff: 15, yOff: 15, tfsz: 8, lfs: 8.5, dash: '#555555', xLabY: 1072, yLabX: 34,
    legend: { l: 324, t: 838, w: 73, h: 117, s: 1, fs: 7, sq: 5, sqX: 6, txX: 17, labels: D_LEGEND } },
  { tag: 'e', title: 'SCLC vs NSCLC', tx: 600, ty: 867, tfs: 24,
    box: { l: 463, t: 895, w: 244, h: 197 }, xd: [-2.11, 1.85], yd: [-0.53, 12.6], xt: E_X_TICKS, yt: E_Y_TICKS, xf: f0, yf: f0,
    series: [[E_NS, COL.ns], [E_LG, COL.lg], [E_LR, COL.lr], [E_DG, COL.dg], [E_DR, COL.dr]], r: 2.4,
    tl: 5, xOff: 17, yOff: 11, tfsz: 8, lfs: 8.5, dash: '#5a5ab4', xLabY: 1128, yLabX: 425,
    legend: { l: 718, t: 896, w: 73, h: 118, s: 1, fs: 6.8, sq: 5, sqX: 5, txX: 15, labels: E_LEGEND } },
];

const YW = 40, XH = 40, M = 4;

function Legend({ lg }: { lg: any }) {
  return (
    <div style={{ position: 'absolute', left: lg.l, top: lg.t, width: lg.w, height: lg.h, border: '1px solid #555', boxSizing: 'border-box', background: '#fff', fontFamily: RFONT, color: '#333' }}>
      {lg.labels.map((lines: string[], i: number) => {
        const ys = LEGEND_LINES[i].map((v) => v * lg.s);
        const sqY = ys[ys.length - 1];
        return (
          <div key={i}>
            <div style={{ position: 'absolute', left: lg.sqX, top: sqY - lg.sq / 2 - 1, width: lg.sq, height: lg.sq, background: LEGEND_COLORS[i], border: '1px solid #555' }} />
            {lines.map((t, j) => (
              <div key={j} style={{ position: 'absolute', left: lg.txX, top: ys[j] - lg.fs * 0.6 - 1, fontSize: lg.fs, lineHeight: `${lg.fs * 1.2}px`, whiteSpace: 'nowrap' }}>{t}</div>
            ))}
          </div>
        );
      })}
    </div>
  );
}

function Volcano({ p }: { p: any }) {
  const { box } = p;
  const xTick = (props: any) => (
    <text x={props.x} y={props.y + p.xOff - p.tl} textAnchor="middle" dominantBaseline="central" fontSize={p.tfsz} fill="#333" fontFamily={RFONT}>
      {p.xf(props.payload.value)}
    </text>
  );
  const yTick = (props: any) => (
    <text transform={`translate(${props.x - (p.yOff - p.tl)},${props.y}) rotate(-90)`} textAnchor="middle" dominantBaseline="central" fontSize={p.tfsz} fill="#333" fontFamily={RFONT}>
      {p.yf(props.payload.value)}
    </text>
  );
  return (
    <>
      <div style={{ position: 'absolute', left: p.tx - 200, top: p.ty - p.tfs * 0.68, width: 400, textAlign: 'center', fontFamily: TFONT, fontSize: p.tfs, lineHeight: `${p.tfs * 1.3}px`, color: '#111' }}>
        (<span style={{ fontWeight: 700, fontSize: p.tfs * 0.8 }}>{p.tag}</span>) {p.title}
      </div>
      <div style={{ position: 'absolute', left: box.l - YW, top: box.t - M }}>
        <ScatterChart width={YW + box.w + M} height={M + box.h + XH} margin={{ top: M, right: M, bottom: 0, left: 0 }}>
          <XAxis type="number" dataKey="x" domain={p.xd} allowDataOverflow ticks={p.xt} interval={0} axisLine={false}
            tickSize={p.tl} tickMargin={0} tickLine={{ stroke: '#444' }} height={XH} tick={xTick} />
          <YAxis type="number" dataKey="y" domain={p.yd} allowDataOverflow ticks={p.yt} interval={0} axisLine={false}
            tickSize={p.tl} tickMargin={0} tickLine={{ stroke: '#444' }} width={YW} tick={yTick} />
          {p.series.map(([d, c]: [number[], string], i: number) => (
            <Scatter key={i} data={pts(d)} fill={c} isAnimationActive={false}
              shape={(s: any) => <circle cx={s.cx} cy={s.cy} r={p.r} fill={c} />} />
          ))}
          <ReferenceLine x={-1} stroke={p.dash} strokeDasharray="3 2" />
          <ReferenceLine x={1} stroke={p.dash} strokeDasharray="3 2" />
          <ReferenceLine y={1.3} stroke={p.dash} strokeDasharray="3 2" />
        </ScatterChart>
      </div>
      <div style={{ position: 'absolute', left: box.l, top: box.t, width: box.w, height: box.h, border: '1px solid #444', boxSizing: 'border-box' }} />
      <div style={{ position: 'absolute', left: box.l + box.w / 2 - 100, width: 200, top: p.xLabY - p.lfs * 0.6, textAlign: 'center', fontFamily: RFONT, fontSize: p.lfs, color: '#333' }}>
        log2 fold change
      </div>
      <div style={{ position: 'absolute', left: p.yLabX - 100, width: 200, top: box.t + box.h / 2 - p.lfs * 0.6, textAlign: 'center', fontFamily: RFONT, fontSize: p.lfs, color: '#333', transform: 'rotate(-90deg)' }}>
        -log10 p-value
      </div>
      <Legend lg={p.legend} />
    </>
  );
}

const ARROW = '#3b6d9e';

export default function App() {
  return (
    <div style={{ position: 'absolute', left: 0, top: 0, width: 800, height: 1145, background: '#fff', overflow: 'hidden' }}>
      {[[126, LEVELS[0]], [517, LEVELS[1]], [927, LEVELS[2]]].map(([cy, t]) => (
        <div key={t as string} style={{ position: 'absolute', left: 14 - 100, width: 200, top: (cy as number) - 11, textAlign: 'center', fontFamily: TFONT, fontSize: 21, lineHeight: '22px', color: '#111', transform: 'rotate(-90deg)' }}>
          {t}
        </div>
      ))}
      {PANELS.map((p) => <Volcano key={p.tag} p={p} />)}
      <svg width={800} height={1145} style={{ position: 'absolute', left: 0, top: 0, pointerEvents: 'none' }}>
        <g fill="none" stroke={ARROW} strokeWidth={8}>
          <path d="M409,438 L409,550 Q407,592 352,615" />
          <path d="M404,560 Q398,612 428,618" />
          <path d="M498,665 C430,690 360,720 337,770" />
          <path d="M323,1022 C350,1070 375,1090 432,1082" />
        </g>
        <g fill={ARROW}>
          <polygon points="337,622 357,625 348,604" />
          <polygon points="442,621 426,628 430,608" />
          <polygon points="328,790 348,775 326,765" />
          <polygon points="455,1079 434,1094 430,1070" />
        </g>
      </svg>
    </div>
  );
}
